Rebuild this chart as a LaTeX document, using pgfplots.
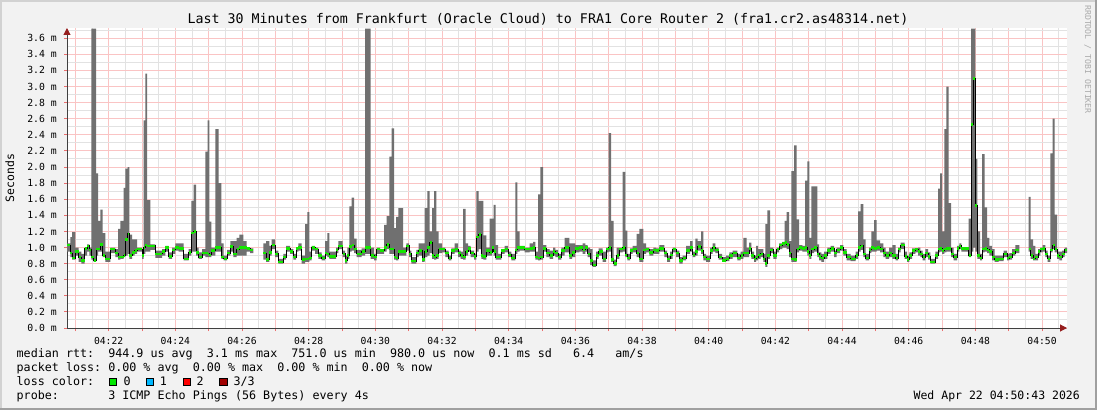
\documentclass[border=0pt]{standalone}
\usepackage{fontspec}
\setmainfont{DejaVu Sans Mono}
\usepackage{pgfplots}
\pgfplotsset{compat=1.18}
\usepackage{pgfplotstable}
\usepgfplotslibrary{fillbetween}
\usetikzlibrary{arrows.meta}

\definecolor{bg}{RGB}{242,242,242}
\definecolor{bordlight}{RGB}{210,210,210}
\definecolor{borddark}{RGB}{160,160,160}
\definecolor{smoke}{RGB}{112,112,112}
\definecolor{medgreen}{RGB}{20,230,0}
\definecolor{majgrid}{RGB}{250,196,196}
\definecolor{mingrid}{RGB}{226,226,226}
\definecolor{tickred}{RGB}{235,110,110}
\definecolor{axiscol}{RGB}{64,64,64}
\definecolor{arrowcol}{RGB}{150,30,30}
\definecolor{loss0}{RGB}{0,230,0}
\definecolor{loss1}{RGB}{0,184,255}
\definecolor{loss2}{RGB}{255,0,0}
\definecolor{loss3}{RGB}{160,0,0}
\definecolor{wm}{RGB}{170,170,170}
\pagecolor{bg}

% x = screen step (0..1000 = 04:20:43..04:50:43, 1.8 s each), y = ms
% columns: start of step, min ping, max ping, median
\pgfplotstableread{
u lo hi med
0 0.95 1.05 1.03
3.3 0.88 1.13 0.93
5 0.85 1.19 0.87
8.3 0.90 1.00 0.95
11.7 0.82 0.95 0.88
14.3 0.80 0.92 0.84
17.7 0.90 1.00 0.99
20 0.95 1.04 1.02
22.3 0.90 1.00 0.97
24.3 0.85 3.72 0.88
26.7 0.82 3.72 0.84
29 0.90 1.92 0.98
31 0.95 1.33 0.98
33.3 0.95 1.47 1.04
35.7 0.88 1.18 0.90
38.3 0.82 0.95 0.86
43.3 0.93 1.00 0.98
48.3 0.88 0.98 0.93
51 0.85 1.23 0.88
53.3 0.86 1.33 0.88
56.7 0.88 1.74 0.90
58.3 0.90 1.98 1.10
60.7 0.92 2.00 1.17
62.3 0.86 1.16 0.90
65 0.90 1.10 0.94
67.7 0.92 1.10 0.96
70 0.95 1.00 0.98
75 0.86 0.95 0.90
76.7 0.92 2.58 1.00
78.3 0.95 3.16 1.03
80 0.95 1.59 1.02
83.3 0.97 1.04 1.02
88.3 0.87 0.96 0.92
95 0.90 0.98 0.95
98.3 0.95 1.02 1.00
101.7 0.86 0.94 0.89
105 0.92 1.00 0.97
108.3 0.96 1.05 1.00
111.7 0.95 1.05 0.99
116.7 0.84 0.92 0.86
121.7 0.90 0.98 0.94
124.3 0.95 1.58 1.18
126.7 0.95 1.78 1.20
129 0.90 1.00 0.94
131.7 0.86 0.94 0.88
135 0.90 0.98 0.93
138.3 0.88 2.19 0.93
140.7 0.88 2.58 0.92
142.3 0.88 1.32 0.91
144.3 0.90 1.00 0.96
148.3 0.95 2.47 1.00
151.7 0.95 1.80 1.00
154.3 0.86 1.05 0.88
156.7 0.84 0.90 0.86
160 0.90 0.97 0.93
163.3 0.95 1.08 1.01
166.3 0.88 1.08 0.92
169.7 0.90 1.12 0.98
172.3 0.90 1.16 1.00
176.3 0.90 1.08 1.00
179.7 0.95 1.00 0.99
183 0.93 0.99 0.97
186.3 0.93 0.99 0.97
}\segA

\pgfplotstableread{
u lo hi med
196.3 0.85 1.05 0.93
199 0.82 1.08 0.85
202.3 0.90 1.02 0.94
204.7 0.98 1.10 1.03
208 0.88 0.96 0.92
211.3 0.80 0.86 0.82
216.3 0.85 0.92 0.88
219 0.95 1.02 0.99
223 0.92 0.98 0.95
226.3 0.85 0.92 0.88
229 0.95 1.00 0.99
231.3 0.96 1.05 1.00
234.7 0.80 0.90 0.85
238 0.82 1.29 0.86
240.3 0.82 1.44 0.86
242.3 0.84 0.95 0.87
244.7 0.96 1.02 1.00
248 0.92 1.00 0.98
251.3 0.86 0.94 0.90
254.7 0.84 0.90 0.87
258 0.90 1.08 0.93
260.3 0.88 1.18 0.92
262.3 0.86 0.95 0.89
269 0.93 1.00 0.97
271.3 0.98 1.08 1.02
275.7 0.88 0.96 0.92
278 0.80 0.90 0.84
280.3 0.86 1.00 0.90
282.3 0.95 1.51 1.01
284.7 0.96 1.62 1.03
287 0.93 1.11 0.98
289.7 0.88 0.97 0.92
294.7 0.90 0.99 0.95
298 0.92 3.72 1.00
303.7 0.86 1.00 0.90
307 0.84 0.92 0.88
309.7 0.92 1.00 0.98
313 0.92 0.98 0.96
317 0.95 1.28 1.00
319.7 0.98 1.39 1.04
322.3 0.92 2.13 0.98
324.7 0.92 2.48 0.98
327 0.85 1.24 0.88
329 0.84 1.38 0.87
331.3 0.90 1.49 0.95
336 0.90 1.00 0.95
339.3 0.96 1.05 1.02
342 0.88 0.96 0.92
344.3 0.80 0.88 0.83
349.3 0.88 0.97 0.93
351.7 0.90 1.05 0.96
355 0.82 1.05 0.85
357.7 0.88 1.49 0.95
360.3 0.90 1.70 1.00
362.7 0.93 1.20 1.06
365 0.86 1.49 0.90
367 0.85 1.70 0.88
369.3 0.86 1.20 0.90
371.7 0.93 1.05 0.98
375 0.94 1.00 0.98
378.3 0.88 0.96 0.93
381.7 0.84 0.90 0.87
384.3 0.92 0.99 0.96
387.7 0.94 1.05 0.98
391 0.88 0.96 0.93
393.7 0.86 0.95 0.90
396 0.85 1.48 0.88
398.7 0.90 1.05 0.95
401 0.95 1.02 0.99
403.7 0.88 0.96 0.93
407 0.85 0.92 0.89
409.3 0.95 1.70 1.13
411.7 0.98 1.58 1.16
414.3 0.86 1.58 0.90
416.3 0.85 1.15 0.89
419.3 0.90 1.00 0.96
422.7 0.90 1.36 0.94
425 0.95 1.36 1.00
426.7 0.90 1.53 0.95
428.7 0.85 1.03 0.88
431 0.85 0.92 0.88
434.3 0.92 0.98 0.96
437.7 0.94 1.02 0.98
441 0.88 0.95 0.91
444.3 0.84 0.92 0.87
448.3 0.92 1.81 0.97
450.3 0.95 1.20 1.00
452.7 0.96 1.02 1.00
457.7 0.94 1.00 0.98
462.7 0.95 1.05 0.99
466 0.95 1.07 1.00
468.3 0.85 0.95 0.88
471 0.84 1.66 0.87
473.3 0.85 2.00 0.88
476 0.95 1.03 0.99
479.3 0.88 0.98 0.93
482.7 0.86 0.96 0.90
486 0.90 1.00 0.95
488.3 0.88 0.97 0.93
491 0.85 0.92 0.88
494.3 0.90 1.00 0.96
497.7 0.94 1.12 1.00
502.3 0.86 1.05 0.90
505 0.88 1.05 0.94
508.3 0.94 1.03 0.99
512.3 0.95 1.03 1.00
515.7 0.92 1.05 0.97
518.3 0.95 1.03 1.00
520.7 0.88 1.00 0.92
523 0.78 0.98 0.84
525.7 0.76 0.84 0.78
529 0.86 0.95 0.90
531.7 0.90 0.99 0.95
535.7 0.82 0.95 0.86
539 0.94 1.00 0.98
541.7 0.95 2.42 1.00
544 0.82 1.33 0.85
546.7 0.77 0.85 0.80
549.7 0.86 1.00 0.90
552.3 0.94 1.00 0.98
555.7 0.95 1.94 1.00
558.3 0.88 1.21 0.91
560.3 0.84 0.92 0.87
563 0.92 0.99 0.96
565.7 0.94 1.02 0.98
569.7 0.88 1.17 0.93
572.3 0.82 1.23 0.86
576.3 0.92 1.05 0.97
579 0.94 1.00 0.98
582.3 0.90 0.98 0.94
586.3 0.92 1.00 0.97
589 0.92 0.99 0.96
592.3 0.95 1.03 0.99
597.3 0.88 0.96 0.93
600 0.82 0.90 0.86
603 0.86 0.95 0.91
605.7 0.94 1.00 0.98
609 0.88 0.96 0.93
612.3 0.80 0.88 0.84
615.7 0.84 0.90 0.87
619 0.92 1.02 0.96
623 0.95 1.08 1.00
625.7 0.88 0.95 0.91
628.3 0.90 1.11 0.95
630.7 0.96 1.08 1.01
634 0.92 1.20 0.96
636.3 0.84 0.92 0.88
639 0.82 0.90 0.86
643 0.92 1.00 0.96
645.7 0.95 1.05 1.00
648.3 0.93 1.00 0.97
651.7 0.85 0.92 0.88
655 0.82 0.88 0.84
659 0.83 0.90 0.86
662.3 0.86 0.94 0.90
665.7 0.88 0.96 0.93
670.3 0.84 0.92 0.87
673.7 0.86 0.95 0.90
676.3 0.88 1.12 0.93
679.7 0.88 1.00 0.93
682 0.95 1.06 0.99
684.3 0.86 0.95 0.90
687 0.82 0.90 0.86
689 0.84 1.02 0.88
691 0.86 0.98 0.91
693.7 0.88 0.98 0.92
696.3 0.82 0.92 0.86
698.3 0.76 1.29 0.80
700.3 0.86 1.46 0.90
703 0.93 1.00 0.97
706.3 0.86 0.95 0.90
709.7 0.94 1.00 0.98
712 0.98 1.05 1.03
715.3 1.00 1.07 1.05
717.7 1.00 1.33 1.06
719.7 0.98 1.44 1.04
722 0.88 1.08 0.93
724.3 0.82 1.95 0.86
727 0.82 2.27 0.85
729.7 0.94 1.35 0.98
732 0.96 1.03 1.00
735.3 0.95 1.02 0.99
738 0.95 1.83 1.00
740.3 0.90 2.07 0.95
742.3 0.86 1.12 0.90
744.3 0.93 1.76 0.98
747 0.95 1.76 1.00
750.3 0.88 1.04 0.92
752 0.84 0.94 0.89
754.3 0.82 0.92 0.87
757 0.86 0.95 0.90
760.3 0.92 1.00 0.96
763.7 0.95 1.02 0.99
767 0.88 0.96 0.93
769.7 0.93 1.00 0.97
773 0.96 1.03 1.00
776.3 0.90 0.98 0.94
779.7 0.84 0.92 0.88
783.7 0.83 0.90 0.86
788.7 0.86 0.95 0.90
791 0.95 1.45 1.00
793.7 0.97 1.54 1.02
796.3 0.88 1.10 0.92
798.7 0.84 0.92 0.87
802 0.93 1.00 0.97
804.3 0.95 1.20 1.00
807 0.95 1.34 0.99
809.7 0.96 1.09 1.00
813 0.94 1.05 0.98
816.3 0.88 1.00 0.93
818.7 0.86 0.95 0.90
822 0.88 1.00 0.93
825.3 0.86 1.03 0.90
828.7 0.84 0.92 0.87
831 0.94 1.00 0.98
833.7 0.98 1.06 1.03
837.7 0.86 0.95 0.89
840 0.82 0.90 0.85
842.3 0.86 0.94 0.90
845 0.92 0.99 0.96
848.3 0.94 0.99 0.98
851 0.90 1.00 0.95
853.3 0.88 0.96 0.92
855.7 0.84 0.92 0.88
858.3 0.88 0.98 0.93
861 0.85 0.94 0.89
863.3 0.80 0.86 0.82
868.3 0.86 0.95 0.90
871 0.94 1.73 0.98
873 0.95 1.92 0.99
875 0.92 1.20 0.96
877.3 0.94 2.47 0.98
879.3 0.95 3.00 0.99
881.7 0.95 1.55 0.99
884 0.88 1.00 0.92
886.7 0.84 0.92 0.88
890 0.95 1.02 0.99
892.3 0.98 1.05 1.02
894.3 0.95 1.00 0.99
901.7 0.88 1.36 0.90
904 0.95 3.72 2.53
906.3 1.00 3.72 3.10
908.3 0.95 2.10 1.52
910.3 0.86 1.20 0.90
913 0.84 0.92 0.87
915 0.94 2.16 0.98
917.7 0.95 1.50 0.99
920 0.93 1.12 0.97
922.3 0.90 1.02 0.95
925 0.84 0.98 0.88
927.7 0.82 0.90 0.85
931.7 0.83 0.90 0.86
936.7 0.88 0.96 0.92
940 0.84 0.92 0.87
942.3 0.85 0.93 0.88
945 0.90 0.98 0.93
948.3 0.93 1.03 0.97
952.3 0.93 1.03 0.97
}\segB

\pgfplotstableread{
u lo hi med
961.7 0.95 1.63 0.98
963.7 0.86 1.10 0.90
966 0.84 1.02 0.86
968.3 0.84 0.92 0.88
971 0.90 0.98 0.95
973.3 0.94 1.00 0.98
975.7 0.95 1.03 0.99
978.3 0.88 0.96 0.92
980.7 0.82 0.90 0.86
983.3 0.94 2.17 0.97
985.7 0.98 2.60 1.03
987.7 0.94 1.41 0.98
990 0.86 0.95 0.90
992.3 0.84 0.95 0.88
995 0.88 0.96 0.92
997.7 0.93 1.00 0.97
1000 0.93 1.00 0.97
}\segC

\begin{document}%
\begin{tikzpicture}
\begin{axis}[
    at={(67pt,82pt)}, anchor=south west,
    scale only axis, width=1000pt, height=300pt,
    xmin=0, xmax=1000, ymin=0, ymax=3.727,
    axis lines=left,
    axis line style={axiscol, line width=1pt, -{Triangle[length=7pt,width=7pt,color=arrowcol]}},
    axis background/.style={fill=white},
    xtick={8.333,41.667,...,976},
    xticklabels={{},04:22,{},04:24,{},04:26,{},04:28,{},04:30,{},04:32,{},04:34,{},04:36,{},04:38,{},04:40,{},04:42,{},04:44,{},04:46,{},04:48,{},04:50},
    minor xtick={25,58.333,...,992},
    ytick={0,0.2,...,3.61},
    minor ytick={0.1,0.3,...,3.71},
    grid=both,
    major grid style={majgrid, line width=1pt, solid},
    minor grid style={mingrid, line width=1pt, solid},
    tick style={tickred, line width=1pt},
    major tick length=3pt, minor tick length=0pt,
    tick align=outside,
    xticklabel style={font=\fontsize{9.7}{10}\selectfont, anchor=base, yshift=-13pt, inner sep=0pt},
    yticklabel style={font=\fontsize{9.8}{10}\selectfont, anchor=east, inner sep=0pt, xshift=-7pt},
    yticklabel={\pgfmathprintnumber[fixed,fixed zerofill,precision=1,assume math mode=true]{\tick}~m},
]
% smoke: min..max of the pings
\addplot[const plot, draw=none, name path=hiA] table[x=u,y=hi]{\segA};
\addplot[const plot, draw=none, name path=loA] table[x=u,y=lo]{\segA};
\addplot[smoke, draw=none] fill between[of=hiA and loA];
\addplot[const plot, draw=none, name path=hiB] table[x=u,y=hi]{\segB};
\addplot[const plot, draw=none, name path=loB] table[x=u,y=lo]{\segB};
\addplot[smoke, draw=none] fill between[of=hiB and loB];
\addplot[const plot, draw=none, name path=hiC] table[x=u,y=hi]{\segC};
\addplot[const plot, draw=none, name path=loC] table[x=u,y=lo]{\segC};
\addplot[smoke, draw=none] fill between[of=hiC and loC];
% median rtt
\addplot[const plot, black, line width=0.9pt] table[x=u,y=med]{\segA};
\addplot[const plot, black, line width=0.9pt] table[x=u,y=med]{\segB};
\addplot[const plot, black, line width=0.9pt] table[x=u,y=med]{\segC};
\addplot[jump mark left, medgreen, line width=2.5pt] table[x=u,y=med]{\segA};
\addplot[jump mark left, medgreen, line width=2.5pt] table[x=u,y=med]{\segB};
\addplot[jump mark left, medgreen, line width=2.5pt] table[x=u,y=med]{\segC};
\end{axis}

% bevelled frame
\fill[bordlight] (0pt,408pt) rectangle (1097pt,410pt);
\fill[bordlight] (0pt,0pt) rectangle (2pt,410pt);
\fill[borddark] (0pt,0pt) rectangle (1097pt,2pt);
\fill[borddark] (1095pt,0pt) rectangle (1097pt,410pt);

% title, axis name, watermark
\node[anchor=base, inner sep=0pt] at (548pt,386pt)
  {\fontsize{13.3}{14}\selectfont Last 30 Minutes from Frankfurt (Oracle Cloud) to FRA1 Core Router 2 (fra1.cr2.as48314.net)};
\node[rotate=90, anchor=base, inner sep=0pt] at (14pt,232pt)
  {\fontsize{11.5}{12}\selectfont Seconds};
\node[rotate=-90, anchor=base west, inner sep=0pt, text=wm] at (1085pt,405pt)
  {\fontsize{8.2}{9}\selectfont RRDTOOL / TOBI OETIKER};

% legend block
\begin{scope}[every node/.style={anchor=base west, inner sep=0pt, font=\fontsize{11.7}{12}\selectfont}]
\node at (16.5pt,52.5pt) {median~rtt:~~944.9~us~avg~~3.1~ms~max~~751.0~us~min~~980.0~us~now~~0.1~ms~sd~~~6.4~~~am/s};
\node at (16.5pt,38.5pt) {packet~loss:~0.00~\%~avg~~0.00~\%~max~~0.00~\%~min~~0.00~\%~now};
\node at (16.5pt,24.5pt) {loss~color:};
\node at (123.5pt,24.5pt) {0};
\node at (159.6pt,24.5pt) {1};
\node at (196.5pt,24.5pt) {2};
\node at (233.3pt,24.5pt) {3/3};
\node at (16.5pt,10.5pt) {probe:~~~~~~~3~ICMP~Echo~Pings~(56~Bytes)~every~4s};
\end{scope}
\draw[black, line width=0.8pt, fill=loss0] (109.2pt,24.5pt) rectangle ++(7.6pt,7.6pt);
\draw[black, line width=0.8pt, fill=loss1] (146pt,24.5pt) rectangle ++(7.6pt,7.6pt);
\draw[black, line width=0.8pt, fill=loss2] (182.9pt,24.5pt) rectangle ++(7.6pt,7.6pt);
\draw[black, line width=0.8pt, fill=loss3] (219.7pt,24.5pt) rectangle ++(7.6pt,7.6pt);
\node[anchor=base east, inner sep=0pt, font=\fontsize{11.5}{12}\selectfont] at (1080pt,10.5pt) {Wed~Apr~22~04:50:43~2026};

\pgfresetboundingbox
\useasboundingbox (0pt,0pt) rectangle (1097pt,410pt);
\end{tikzpicture}%
\end{document}
